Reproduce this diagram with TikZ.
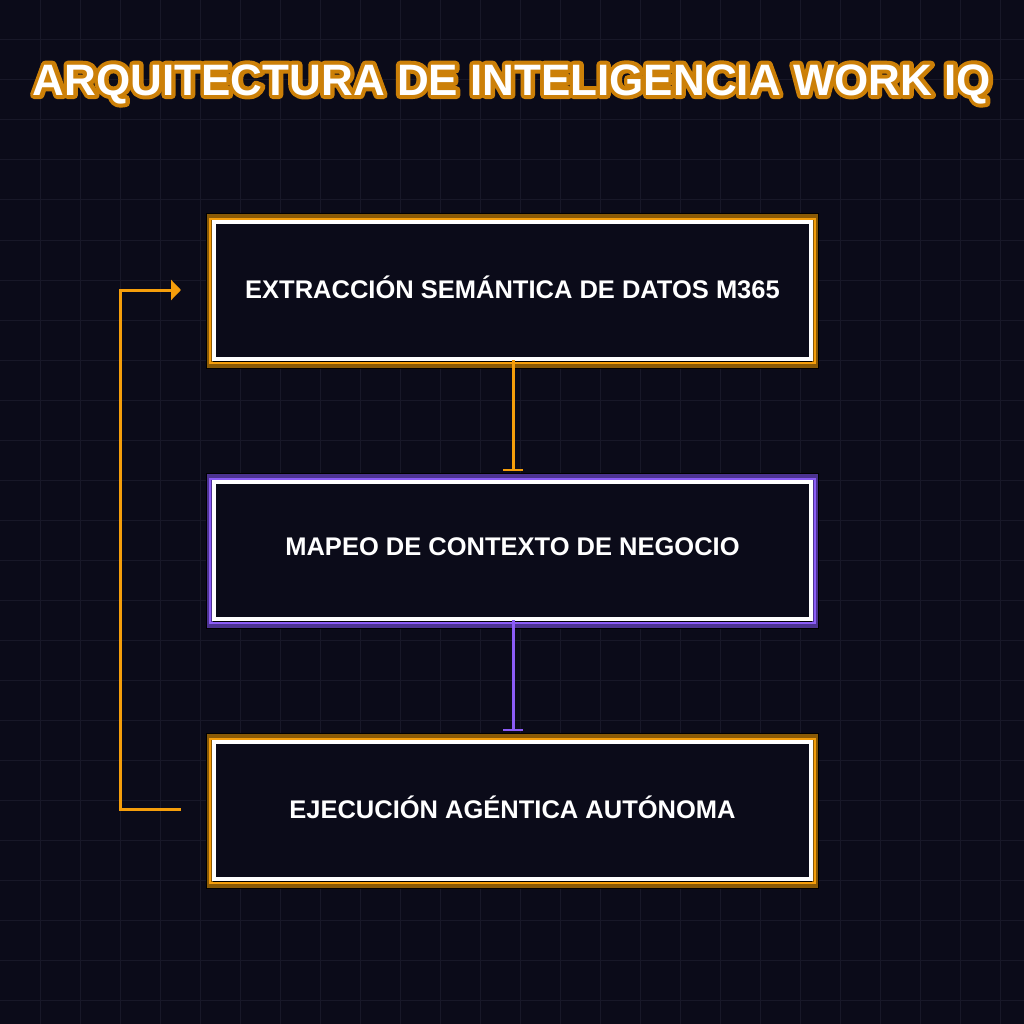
\documentclass[tikz,border=0pt]{standalone}
\usepackage{fontspec}
\setmainfont{Liberation Sans}
\usetikzlibrary{arrows.meta}
\definecolor{bg}{HTML}{0B0B19}
\definecolor{gridc}{HTML}{181828}
\definecolor{org}{HTML}{F59E0B}
\definecolor{orgd}{HTML}{8A5A06}
\definecolor{purp}{HTML}{8B5CF6}
\definecolor{purpd}{HTML}{4C3391}
\tikzset{
  lbl/.style={text=white, font=\bfseries\fontsize{25.5}{28}\selectfont},
  ttl/.style={font=\bfseries\fontsize{44}{48}\selectfont},
}
\newcommand{\glowbox}[4]{% name, ytop, color, dark color
  \fill[black] (206,#2-1) rectangle (819,#2+155);
  \fill[bg] (213,#2+6) rectangle (812,#2+147);
  \draw[#4, line width=6pt] (210,#2+3) rectangle (815,#2+151);
  \draw[#3, line width=2pt] (210,#2+5) rectangle (815,#2+149);
  \draw[white, line width=4pt] (214,#2+8) rectangle (811,#2+145);
  \node[lbl] (#1) at (512.5,#2+73) {};
}
\begin{document}
\begin{tikzpicture}[x=1pt,y=-1pt]
\fill[bg] (0,0) rectangle (1024,1024);
\useasboundingbox (0,0) rectangle (1024,1024);
\foreach \i in {40,80,...,1000}{
  \draw[gridc, line width=1pt] (\i,0) -- (\i,1024);
  \draw[gridc, line width=1pt] (0,\i) -- (1024,\i);
}
% title: orange outline (stroked text), then white fill on top
\node[ttl, text=org] at (512,84) {\special{pdf:literal direct 1 Tr 1 j 8 w 0.80 0.50 0.03 RG}ARQUITECTURA DE INTELIGENCIA WORK IQ\special{pdf:literal direct 0 Tr}};
\node[ttl, text=white] (title) at (512,84) {ARQUITECTURA DE INTELIGENCIA WORK IQ};
% boxes
\glowbox{b1}{214}{org}{orgd}
\glowbox{b2}{474}{purp}{purpd}
\glowbox{b3}{734}{org}{orgd}
\node[lbl] at (b1) {EXTRACCIÓN SEMÁNTICA DE DATOS M365};
\node[lbl] at (b2) {MAPEO DE CONTEXTO DE NEGOCIO};
\node[lbl] at (b3) {EJECUCIÓN AGÉNTICA AUTÓNOMA};
\coordinate (a1) at (513,360);
\coordinate (a2) at (513,471);
\coordinate (c1) at (513,620);
\coordinate (c2) at (513,731);
\draw[org, line width=3pt, -{Bar[width=20pt,line width=2.5pt]}] (a1) -- (a2);
\draw[purp, line width=3pt, -{Bar[width=20pt,line width=2.5pt]}] (c1) -- (c2);
\coordinate (f1) at (181,809);
\coordinate (f2) at (181,290);
\draw[org, line width=3pt, -{Triangle[length=10pt,width=20pt]}] (f1) -- (120,809) -- (120,290) -- (f2);
\end{tikzpicture}
\end{document}
